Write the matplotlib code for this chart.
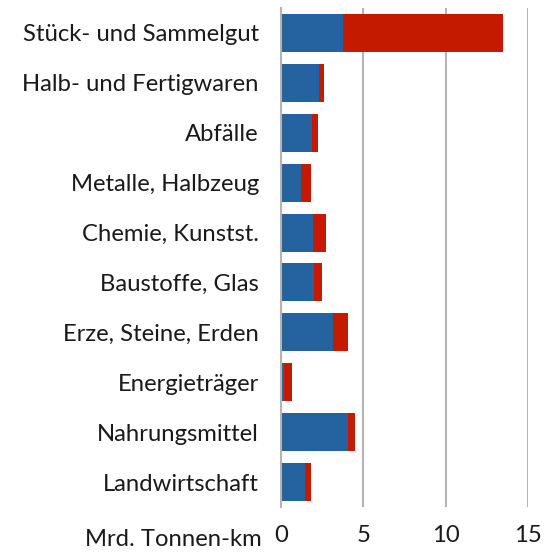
import matplotlib.pyplot as plt
import numpy as np

# Güterverkehr nach Gütergruppen, Mrd. Tonnen-km
categories = ["Stück- und Sammelgut", "Halb- und Fertigwaren", "Abfälle",
              "Metalle, Halbzeug", "Chemie, Kunstst.", "Baustoffe, Glas",
              "Erze, Steine, Erden", "Energieträger", "Nahrungsmittel",
              "Landwirtschaft"]
blue_part = [3.75, 2.3, 1.86, 1.22, 1.92, 2.02, 3.18, 0.18, 4.09, 1.46]
red_part = [9.75, 0.33, 0.37, 0.58, 0.81, 0.45, 0.89, 0.49, 0.38, 0.34]
xticks = [0, 5, 10, 15]

blue = "#2462a0"
red = "#c41a00"
grid_col = "#b4b4b4"
txt_col = "#1a1a1a"

plt.rcParams['font.family'] = ['Lato', 'DejaVu Sans']

fig = plt.figure(figsize=(5.47, 5.52), dpi=100)
ax = fig.add_axes([0.5137, 0.0815, 0.4513, 0.904])

y = np.arange(len(categories))
ax.barh(y, blue_part, height=0.76, color=blue, zorder=3)
ax.barh(y, red_part, left=blue_part, height=0.76, color=red, zorder=3)

ax.set_xlim(0, 15)
ax.set_ylim(len(categories) - 0.5, -0.5)
ax.set_yticks(y)
ax.set_yticklabels(categories, fontsize=17.2, color=txt_col)
ax.set_xticks(xticks)
ax.set_xticklabels([str(t) for t in xticks], fontsize=17.2, color=txt_col)
ax.tick_params(axis='both', length=0)
ax.tick_params(axis='y', pad=16)
ax.tick_params(axis='x', pad=13)

ax.grid(axis='x', color=grid_col, linewidth=1.5, zorder=0)
for s in ["top", "right", "bottom"]:
    ax.spines[s].set_visible(False)
ax.spines["left"].set_color(grid_col)
ax.spines["left"].set_linewidth(1.5)
ax.spines["left"].set_zorder(4)

fig.text(262 / 547, 1 - 540 / 552, "Mrd. Tonnen-km", ha='right', va='center',
         fontsize=17.2, color=txt_col)

fig.savefig("out.png", dpi=100)
